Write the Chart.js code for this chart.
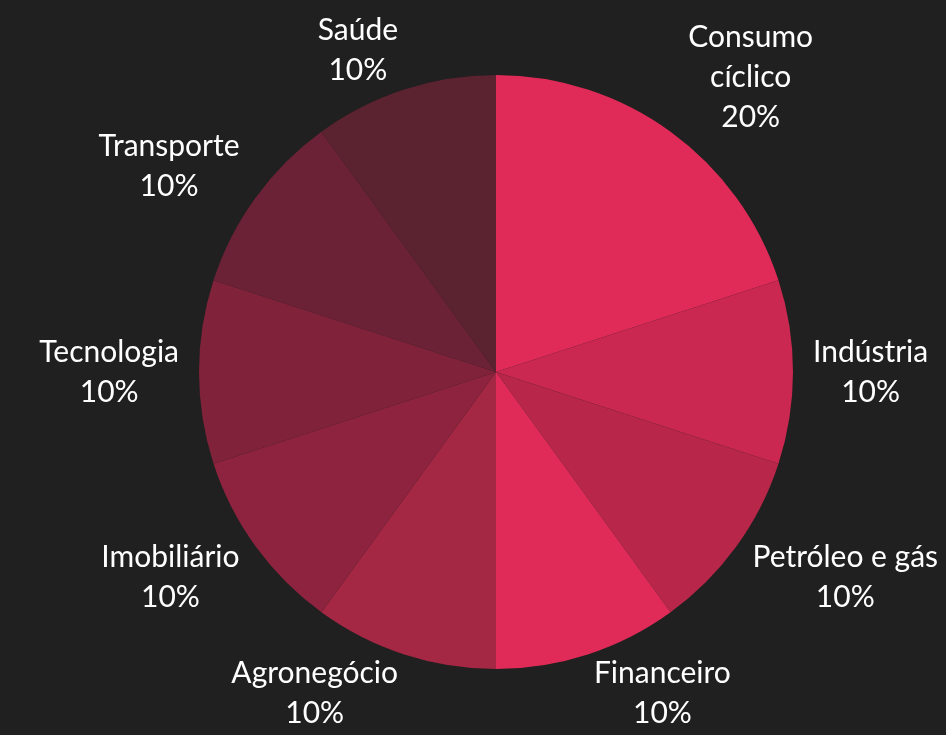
<!DOCTYPE html>
<html>
<head>
<meta charset="utf-8">
<script src="https://cdn.jsdelivr.net/npm/chart.js@4"></script>
<style>
  html, body { margin: 0; padding: 0; background: #202020; }
  #wrap { width: 946px; height: 735px; }
</style>
</head>
<body>
<div id="wrap"><canvas id="pieChart"></canvas></div>
<script>
const categories = [
  ["Consumo", "cíclico"],
  "Indústria",
  "Petróleo e gás",
  "Financeiro",
  "Agronegócio",
  "Imobiliário",
  "Tecnologia",
  "Transporte",
  "Saúde",
];
const shares = [20, 10, 10, 10, 10, 10, 10, 10, 10];
const sliceColors = [
  "#e02b58",
  "#ca2850",
  "#b8274a",
  "#e02b58",
  "#a42744",
  "#8e233f",
  "#80223a",
  "#6c2236",
  "#5b2230",
];

const lineH = 40;

// labels sit outside the pie, pushed sideways by their own size
const outsideLabels = {
  id: "outsideLabels",
  afterDatasetsDraw(chart) {
    const ctx = chart.ctx;
    const meta = chart.getDatasetMeta(0);
    const total = shares.reduce((a, b) => a + b, 0);
    ctx.save();
    ctx.font = "30px Lato";
    ctx.fillStyle = "#ffffff";
    ctx.textAlign = "center";
    ctx.textBaseline = "middle";
    meta.data.forEach((arc, i) => {
      const p = arc.getProps(["x", "y", "startAngle", "endAngle", "outerRadius"], true);
      const mid = (p.startAngle + p.endAngle) / 2;
      const vx = Math.cos(mid);
      const vy = Math.sin(mid);
      const lines = [].concat(categories[i], Math.round((shares[i] / total) * 100) + "%");
      const w = Math.max(...lines.map((l) => ctx.measureText(l).width));
      const h = lines.length * lineH;
      const sx = vx >= 0 ? 1 : -1;
      const sy = Math.sign(vy);
      const cx = p.x + p.outerRadius * vx + sx * (w / 2 + (h / 4) * Math.abs(vx));
      const cy = p.y + p.outerRadius * vy + sy * (h / 2) * Math.sqrt(Math.abs(vy));
      lines.forEach((l, k) => ctx.fillText(l, cx, cy - h / 2 + lineH * (k + 0.5)));
    });
    ctx.restore();
  },
};

const ctx = document.getElementById("pieChart").getContext("2d");
new Chart(ctx, {
  type: "pie",
  data: {
    labels: categories,
    datasets: [
      {
        data: shares,
        backgroundColor: sliceColors,
        borderWidth: 0,
      },
    ],
  },
  options: {
    responsive: true,
    maintainAspectRatio: false,
    animation: false,
    layout: {
      padding: { top: 75, bottom: 66, left: 100, right: 54 },
    },
    plugins: {
      legend: { display: false },
      tooltip: { enabled: false },
    },
  },
  plugins: [outsideLabels],
});
</script>
</body>
</html>
